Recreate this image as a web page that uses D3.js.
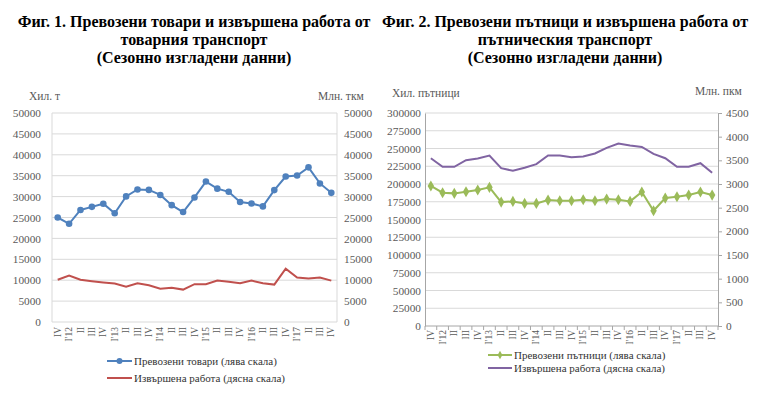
<!DOCTYPE html>
<html>
<head>
<meta charset="utf-8">
<script src="https://cdn.jsdelivr.net/npm/d3@7"></script>
<style>
  body { margin: 0; background: #fff; }
  svg { font-family: "Liberation Serif", "Times New Roman", serif; }
  .title { font-size: 16px; font-weight: bold; fill: #000; }
  .tick text { fill: #595959; font-size: 11.3px; font-family: "Liberation Serif", serif; }
  .xlab { fill: #595959; font-size: 9.5px; }
  .unit { fill: #595959; font-size: 11.5px; }
  .legend { fill: #333; font-size: 11px; }
</style>
</head>
<body>
<div id="chart"></div>
<script>
// quarters, end of 2011 .. end of 2017
const quarters = ["IV", "I'12", "II", "III", "IV", "I'13", "II", "III", "IV", "I'14", "II", "III", "IV",
  "I'15", "II", "III", "IV", "I'16", "II", "III", "IV", "I'17", "II", "III", "IV"];

// Fig. 1 - goods transport
const goodsCarried = [25000, 23500, 26800, 27550, 28300, 26000, 30050, 31700, 31600, 30400, 27950, 26300, 29800,
  33600, 31900, 31150, 28700, 28350, 27650, 31550, 34800, 35050, 37000, 33150, 30900];
const goodsWork = [10100, 11100, 10100, 9750, 9450, 9200, 8450, 9250, 8800, 7950, 8200, 7750, 9050,
  9050, 9900, 9650, 9250, 9900, 9250, 8950, 12750, 10650, 10400, 10650, 9900];

// Fig. 2 - passenger transport
const passCarried = [197200, 187700, 186800, 189100, 191500, 195300, 174500, 175500, 172600, 172600, 177400, 176400, 176400,
  177800, 176400, 178800, 177800, 175500, 188700, 162300, 180200, 182100, 184400, 188700, 184400];
const passWork = [3545, 3363, 3363, 3503, 3539, 3602, 3335, 3279, 3342, 3419, 3602, 3602, 3567,
  3581, 3644, 3763, 3854, 3812, 3784, 3637, 3545, 3363, 3363, 3440, 3237];

const goodsTicks = d3.range(0, 50001, 5000);
const passTicks = d3.range(0, 300001, 25000);
const passWorkTicks = d3.range(0, 4501, 500);

const svg = d3.select("#chart").append("svg")
  .attr("width", 759)
  .attr("height", 399);

// titles
const t1 = svg.append("text").attr("class", "title").attr("text-anchor", "middle");
t1.append("tspan").attr("x", 194).attr("y", 27).text("Фиг. 1. Превозени товари и извършена работа от");
t1.append("tspan").attr("x", 194).attr("y", 45).text("товарния транспорт");
t1.append("tspan").attr("x", 194).attr("y", 63).text("(Сезонно изгладени данни)");

const t2 = svg.append("text").attr("class", "title").attr("text-anchor", "middle");
t2.append("tspan").attr("x", 565).attr("y", 27).text("Фиг. 2. Превозени пътници и извършена работа от");
t2.append("tspan").attr("x", 565).attr("y", 45).text("пътническия транспорт");
t2.append("tspan").attr("x", 565).attr("y", 63).text("(Сезонно изгладени данни)");

// ---------- chart 1 ----------
const x1 = d3.scaleBand().domain(d3.range(quarters.length)).range([52, 337]);
const y1 = d3.scaleLinear().domain([0, 50000]).range([322, 113]);
const c1 = d3.scaleLinear().domain([0, 50000]).range([322, 113]);

const g1 = svg.append("g");
g1.append("g").selectAll("line").data(goodsTicks).join("line")
  .attr("x1", 52).attr("x2", 337)
  .attr("y1", d => y1(d)).attr("y2", d => y1(d))
  .attr("stroke", "#d9d9d9");
g1.append("line").attr("x1", 52).attr("x2", 52).attr("y1", 113).attr("y2", 322).attr("stroke", "#d9d9d9");
g1.append("line").attr("x1", 337).attr("x2", 337).attr("y1", 113).attr("y2", 322).attr("stroke", "#d9d9d9");

g1.append("g").attr("transform", "translate(44,0)")
  .call(d3.axisLeft(y1).tickValues(goodsTicks).tickSize(0).tickFormat(d3.format("d")))
  .call(g => g.select(".domain").remove());
g1.append("g").attr("transform", "translate(341,0)")
  .call(d3.axisRight(c1).tickValues(goodsTicks).tickSize(0).tickFormat(d3.format("d")))
  .call(g => g.select(".domain").remove());

g1.selectAll(".xl").data(quarters).join("text")
  .attr("class", "xlab")
  .attr("text-anchor", "end")
  .attr("transform", (d, i) => `translate(${x1(i) + x1.bandwidth() / 2 + 3},327) rotate(-90)`)
  .text(d => d);

g1.append("text").attr("class", "unit").attr("x", 29).attr("y", 100).text("Хил. т");
g1.append("text").attr("class", "unit").attr("x", 318).attr("y", 100).text("Млн. ткм");

g1.append("path").datum(goodsWork)
  .attr("fill", "none").attr("stroke", "#c0504d").attr("stroke-width", 2)
  .attr("d", d3.line().x((d, i) => x1(i) + x1.bandwidth() / 2).y(d => c1(d)));
g1.append("path").datum(goodsCarried)
  .attr("fill", "none").attr("stroke", "#4f81bd").attr("stroke-width", 2)
  .attr("d", d3.line().x((d, i) => x1(i) + x1.bandwidth() / 2).y(d => y1(d)));
g1.append("g").selectAll("circle").data(goodsCarried).join("circle")
  .attr("cx", (d, i) => x1(i) + x1.bandwidth() / 2)
  .attr("cy", d => y1(d))
  .attr("r", 3.3)
  .attr("fill", "#4f81bd");

// legend 1
g1.append("line").attr("x1", 107).attr("x2", 132).attr("y1", 361).attr("y2", 361).attr("stroke", "#4f81bd").attr("stroke-width", 2);
g1.append("circle").attr("cx", 119.5).attr("cy", 361).attr("r", 3).attr("fill", "#4f81bd");
g1.append("text").attr("class", "legend").attr("x", 134).attr("y", 365).text("Превозени  товари (лява скала)");
g1.append("line").attr("x1", 107).attr("x2", 132).attr("y1", 378).attr("y2", 378).attr("stroke", "#c0504d").attr("stroke-width", 2);
g1.append("text").attr("class", "legend").attr("x", 134).attr("y", 382).text("Извършена  работа (дясна скала)");

// ---------- chart 2 ----------
const x2 = d3.scaleBand().domain(d3.range(quarters.length)).range([425, 718]);
const y2 = d3.scaleLinear().domain([0, 300000]).range([326, 113]);
const c2 = d3.scaleLinear().domain([0, 4500]).range([326, 113]);

const g2 = svg.append("g");
g2.append("g").selectAll("line").data(passTicks.slice(1)).join("line")
  .attr("x1", 425).attr("x2", 718)
  .attr("y1", d => y2(d)).attr("y2", d => y2(d))
  .attr("stroke", "#d9d9d9");

g2.append("g").attr("transform", "translate(425,0)")
  .call(d3.axisLeft(y2).tickValues(passTicks).tickSize(0).tickPadding(4).tickFormat(d3.format("d")))
  .call(g => g.select(".domain").attr("stroke", "#a6a6a6"));
g2.append("g").attr("transform", "translate(718,0)")
  .call(d3.axisRight(c2).tickValues(passWorkTicks).tickSize(4).tickPadding(4).tickFormat(d3.format("d")))
  .call(g => g.select(".domain").attr("stroke", "#a6a6a6"))
  .call(g => g.selectAll(".tick line").attr("stroke", "#a6a6a6"));

// category axis with ticks between quarters
g2.append("line").attr("x1", 425).attr("x2", 718).attr("y1", 326).attr("y2", 326).attr("stroke", "#a6a6a6");
g2.append("g").selectAll("line").data(d3.range(quarters.length + 1)).join("line")
  .attr("x1", i => 425 + i * x2.step()).attr("x2", i => 425 + i * x2.step())
  .attr("y1", 326).attr("y2", 330)
  .attr("stroke", "#a6a6a6");

g2.selectAll(".xl").data(quarters).join("text")
  .attr("class", "xlab")
  .attr("text-anchor", "end")
  .attr("transform", (d, i) => `translate(${x2(i) + x2.bandwidth() / 2 + 3},330) rotate(-90)`)
  .text(d => d);

g2.append("text").attr("class", "unit").attr("x", 392).attr("y", 97).text("Хил. пътници");
g2.append("text").attr("class", "unit").attr("x", 695).attr("y", 95).text("Млн. пкм");

g2.append("path").datum(passWork)
  .attr("fill", "none").attr("stroke", "#8064a2").attr("stroke-width", 2)
  .attr("d", d3.line().x((d, i) => x2(i) + x2.bandwidth() / 2).y(d => c2(d)));
g2.append("path").datum(passCarried)
  .attr("fill", "none").attr("stroke", "#9bbb59").attr("stroke-width", 2)
  .attr("d", d3.line().x((d, i) => x2(i) + x2.bandwidth() / 2).y(d => y2(d)));
g2.append("g").selectAll("path.pt").data(passCarried).join("path")
  .attr("d", d3.symbol(d3.symbolDiamond, 36))
  .attr("transform", (d, i) => `translate(${x2(i) + x2.bandwidth() / 2},${y2(d)})`)
  .attr("fill", "#9bbb59");

// legend 2
g2.append("line").attr("x1", 488).attr("x2", 512).attr("y1", 355).attr("y2", 355).attr("stroke", "#9bbb59").attr("stroke-width", 2);
g2.append("path").attr("d", d3.symbol(d3.symbolDiamond, 20)).attr("transform", "translate(500,355)").attr("fill", "#9bbb59");
g2.append("text").attr("class", "legend").attr("x", 514).attr("y", 359).text("Превозени  пътници (лява скала)");
g2.append("line").attr("x1", 488).attr("x2", 512).attr("y1", 368).attr("y2", 368).attr("stroke", "#8064a2").attr("stroke-width", 2);
g2.append("text").attr("class", "legend").attr("x", 514).attr("y", 372).text("Извършена  работа (дясна скала)");
</script>
</body>
</html>
